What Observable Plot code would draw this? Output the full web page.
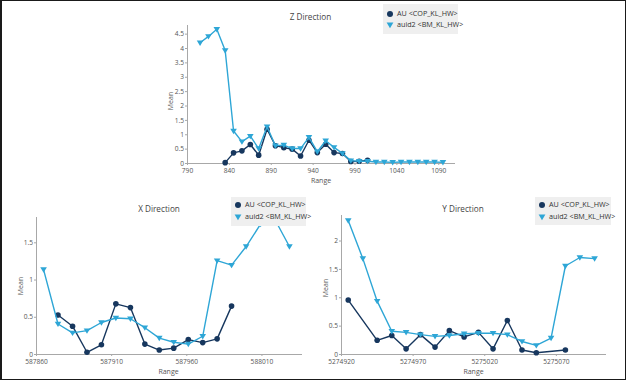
<!DOCTYPE html>
<html><head><meta charset="utf-8">
<script src="https://cdn.jsdelivr.net/npm/d3@7"></script>
<script src="https://cdn.jsdelivr.net/npm/@observablehq/plot@0.6"></script>
<style>
html,body{margin:0;padding:0;background:#fff;}
#frame{position:relative;width:626px;height:380px;overflow:hidden;font-family:"Open Sans",sans-serif;background:#fff;}
#border{position:absolute;left:0;top:0;width:626px;height:380px;box-sizing:border-box;border:1px solid #1a1a1a;border-left-width:2px;z-index:10;pointer-events:none;}
.abs{position:absolute;}
.title{font-size:8.2px;line-height:1;color:#444;transform:translate(-50%,-50%);white-space:nowrap;}
.axlab{font-size:7px;line-height:1;color:#555;transform:translate(-50%,-50%);white-space:nowrap;}
.axlab.rot{transform:translate(-50%,-50%) rotate(-90deg);}
.legend{background:#efefef;z-index:5;}
.lrow{position:absolute;left:0;display:flex;align-items:center;font-size:7.2px;line-height:1;color:#333;white-space:nowrap;transform:translateY(-50%);}
.lrow svg{margin-left:3px;margin-right:3px;}
</style></head>
<body><div id="frame"><div id="border"></div></div>
<script>
// ---------- data ----------
const seriesNames = ["AU <COP_KL_HW>", "auid2 <BM_KL_HW>"];

const zRange = [805,815,825,835,845,855,865,875,885,895,905,915,925,935,945,955,965,975,985,995,1005,1015,1025,1035,1045,1055,1065,1075,1085,1095];
const zAU    = [null,null,null,0.03,0.37,0.44,0.66,0.29,1.19,0.62,0.55,0.5,0.26,0.81,0.38,0.67,0.38,0.35,0.07,0.08,0.11,null,null,null,null,null,null,null,null,null];
const zAuid2 = [4.2,4.42,4.67,3.93,1.13,0.76,0.95,0.52,1.28,0.62,0.64,0.52,0.52,0.91,0.41,0.79,0.56,0.35,0.1,0.08,0.08,0.05,0.05,0.04,0.05,0.05,0.05,0.05,0.05,0.04];
const zXTicks = [790,840,890,940,990,1040,1090];
const zYTicks = [0,0.5,1,1.5,2,2.5,3,3.5,4,4.5];

const xRange = [587864.7,587874.3,587884.0,587893.6,587903.2,587912.8,587922.5,587932.1,587941.7,587951.3,587961.0,587970.6,587980.2,587989.8,587999.5,588009.1,588018.7,588028.3];
const xAU    = [null,0.53,0.38,0.03,0.13,0.68,0.63,0.14,0.06,0.085,0.2,0.16,0.21,0.65,null,null,null,null];
const xAuid2 = [1.14,0.41,0.29,0.32,0.43,0.49,0.48,0.36,0.22,0.165,0.14,0.245,1.26,1.2,1.45,1.75,1.81,1.45];
const xXTicks = [587860,587910,587960,588010];
const xYTicks = [0,0.5,1,1.5];

const yRange = [5274924.7,5274934.9,5274944.9,5274955.1,5274965.1,5274975.1,5274985.3,5274995.3,5275005.6,5275015.6,5275025.8,5275035.8,5275046.0,5275056.0,5275066.3,5275076.3,5275086.4,5275096.7];
const yAU    = [0.96,null,0.25,0.335,0.1,0.35,0.13,0.42,0.31,0.39,0.1,0.6,0.08,0.03,null,0.08,null,null];
const yAuid2 = [2.36,1.69,0.94,0.41,0.39,0.35,0.32,0.335,0.365,0.375,0.375,0.35,0.23,0.16,0.29,1.56,1.71,1.69];
const yXTicks = [5274920,5274970,5275020,5275070];
const yYTicks = [0,0.5,1,1.5,2];

// ---------- style ----------
const AU_COLOR = "#17375e";
const B_COLOR = "#2ea6d6";
const AXIS = "#a8a8a8";
const TEXT = "#555";
const triDown = {
  draw(ctx, size) {
    const s = Math.sqrt(size / Math.PI);
    ctx.moveTo(-s * 1.1, -s * 0.75);
    ctx.lineTo(s * 1.1, -s * 0.75);
    ctx.lineTo(0, s * 1.05);
    ctx.closePath();
  }
};

const frame = document.getElementById("frame");

function addDiv(cls, text, x, y) {
  const d = document.createElement("div");
  d.className = "abs " + cls;
  d.textContent = text;
  d.style.left = x + "px";
  d.style.top = y + "px";
  frame.appendChild(d);
  return d;
}

function addLegend(left, top, w, h, rows) {
  const box = document.createElement("div");
  box.className = "abs legend";
  Object.assign(box.style, {left: left + "px", top: top + "px", width: w + "px", height: h + "px"});
  const icons = [
    `<svg width="8" height="8"><circle cx="4" cy="4" r="3" fill="${AU_COLOR}"/></svg>`,
    `<svg width="8" height="8"><path d="M0.6,1.6 L7.4,1.6 L4,7.2 Z" fill="${B_COLOR}"/></svg>`
  ];
  seriesNames.forEach((name, i) => {
    const r = document.createElement("div");
    r.className = "lrow";
    r.style.top = rows[i] + "px";
    r.innerHTML = icons[i];
    const t = document.createElement("span");
    t.textContent = name;
    r.appendChild(t);
    box.appendChild(r);
  });
  frame.appendChild(box);
}

function panel(cfg) {
  const ptsA = cfg.range.map((x, i) => ({x, y: cfg.a[i]})).filter(d => d.y != null);
  const ptsB = cfg.range.map((x, i) => ({x, y: cfg.b[i]})).filter(d => d.y != null);
  const svg = Plot.plot({
    width: cfg.w, height: cfg.h,
    marginLeft: cfg.m[0], marginRight: cfg.m[1], marginTop: cfg.m[2], marginBottom: cfg.m[3],
    x: {domain: cfg.xDomain},
    y: {domain: cfg.yDomain},
    style: {fontFamily: '"Open Sans", sans-serif', fontSize: "6.6px", color: TEXT, background: "transparent", overflow: "visible"},
    marks: [
      Plot.ruleY([0], {stroke: AXIS}),
      Plot.ruleX([cfg.xDomain[0]], {stroke: AXIS}),
      Plot.axisX({ticks: cfg.xTicks, tickSize: 2, tickPadding: 3, tickFormat: d => String(d), label: null, stroke: AXIS, fill: TEXT}),
      Plot.axisY({ticks: cfg.yTicks, tickSize: 2, tickPadding: 1.5, tickFormat: d => String(d), label: null, stroke: AXIS, fill: TEXT}),
      Plot.line(ptsA, {x: "x", y: "y", stroke: AU_COLOR, strokeWidth: 1.4}),
      Plot.dot(ptsA, {x: "x", y: "y", r: 2.8, fill: AU_COLOR, symbol: "circle"}),
      Plot.line(ptsB, {x: "x", y: "y", stroke: B_COLOR, strokeWidth: 1.4}),
      Plot.dot(ptsB, {x: "x", y: "y", r: 3, fill: B_COLOR, symbol: triDown})
    ]
  });
  svg.style.position = "absolute";
  svg.style.left = cfg.left + "px";
  svg.style.top = cfg.top + "px";
  frame.appendChild(svg);
}

// Z Direction
panel({left: 150, top: 20, w: 320, h: 170, m: [37, 15, 5, 27],
  xDomain: [790, 1110], yDomain: [0, 4.8], xTicks: zXTicks, yTicks: zYTicks,
  range: zRange, a: zAU, b: zAuid2});
addDiv("title", "Z Direction", 310.5, 17);
addDiv("axlab", "Range", 321, 180);
addDiv("axlab rot", "Mean", 169.5, 101);
addLegend(383, 4, 75, 30, [10, 21]);

// X Direction
panel({left: 0, top: 200, w: 313, h: 175, m: [36, 11, 17, 21],
  xDomain: [587860, 588037], yDomain: [0, 1.84], xTicks: xXTicks, yTicks: xYTicks,
  range: xRange, a: xAU, b: xAuid2});
addDiv("title", "X Direction", 159, 208.5);
addDiv("axlab", "Range", 168.5, 370.5);
addDiv("axlab rot", "Mean", 19.5, 285.5);
addLegend(231, 197, 75, 29, [7.5, 19.7]);

// Y Direction
panel({left: 313, top: 200, w: 313, h: 175, m: [28, 20, 15, 21],
  xDomain: [5274920, 5275105], yDomain: [0, 2.45], xTicks: yXTicks, yTicks: yYTicks,
  range: yRange, a: yAU, b: yAuid2});
addDiv("title", "Y Direction", 463, 208.5);
addDiv("axlab", "Range", 473.5, 370.5);
addDiv("axlab rot", "Mean", 324.5, 288);
addLegend(535, 197, 76, 28, [7.5, 19.7]);
</script>
</body></html>
